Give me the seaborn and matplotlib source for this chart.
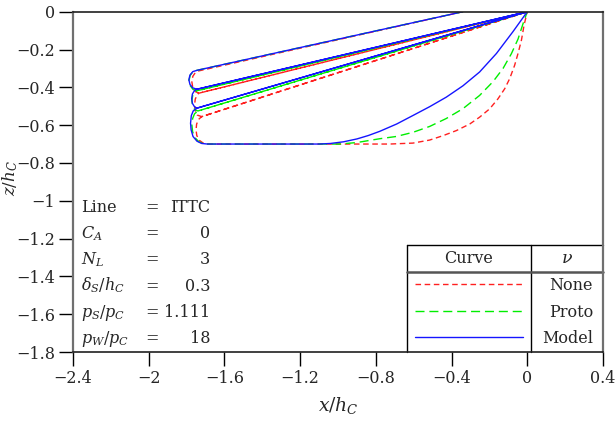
import matplotlib
matplotlib.use("Agg")
import matplotlib.pyplot as plt
import numpy as np
import pandas as pd
import seaborn as sns

# Cable profile paths (x/h_C, z/h_C) for each viscosity treatment
none_x = [-0.34, -1.735, -1.753, -1.767, -1.772, -1.767, -1.753, -1.735, 0.0,
          -1.735, -1.743, -1.754, -1.758, -1.754, -1.743, -1.72, 0.0,
          -1.72, -1.737, -1.747, -1.750, -1.746, -1.733, -1.712, -1.68, -1.66,
          -0.727, -0.604, -0.516, -0.446, -0.375, -0.304, -0.252, -0.199, -0.155,
          -0.119, -0.093, -0.067, -0.049, -0.031, -0.017, 0.0]
none_y = [0.0, -0.313, -0.321, -0.342, -0.372, -0.402, -0.423, -0.431, 0.0,
          -0.431, -0.439, -0.462, -0.493, -0.524, -0.547, -0.555, 0.0,
          -0.555, -0.570, -0.595, -0.625, -0.655, -0.680, -0.695, -0.700, -0.700,
          -0.700, -0.695, -0.679, -0.656, -0.629, -0.594, -0.558, -0.514, -0.461,
          -0.407, -0.354, -0.284, -0.221, -0.151, -0.071, 0.0]

proto_x = [-0.34, -1.745, -1.766, -1.781, -1.787, -1.781, -1.766, -1.745, 0.0,
           -1.745, -1.757, -1.768, -1.772, -1.768, -1.757, -1.74, 0.0,
           -1.74, -1.758, -1.768, -1.772, -1.768, -1.757, -1.735, -1.71, -1.69,
           -0.99, -0.90, -0.78, -0.692, -0.604, -0.516, -0.428, -0.34, -0.252,
           -0.181, -0.128, -0.084, -0.049, -0.023, 0.0]
proto_y = [0.0, -0.310, -0.317, -0.337, -0.364, -0.391, -0.411, -0.418, 0.0,
           -0.418, -0.425, -0.445, -0.472, -0.498, -0.518, -0.525, 0.0,
           -0.525, -0.540, -0.565, -0.600, -0.635, -0.665, -0.688, -0.698, -0.700,
           -0.700, -0.692, -0.672, -0.660, -0.638, -0.607, -0.565, -0.513, -0.443,
           -0.370, -0.300, -0.222, -0.145, -0.065, 0.0]

model_x = [-0.34, -1.745, -1.767, -1.782, -1.788, -1.782, -1.767, -1.745, 0.0,
           -1.745, -1.758, -1.769, -1.773, -1.769, -1.758, -1.745, 0.0,
           -1.745, -1.765, -1.775, -1.779, -1.776, -1.766, -1.745, -1.72, -1.69,
           -1.10, -1.04, -0.97, -0.90, -0.84, -0.78, -0.69, -0.604, -0.515,
           -0.428, -0.34, -0.252, -0.163, -0.076, 0.0]
model_y = [0.0, -0.310, -0.317, -0.335, -0.360, -0.385, -0.403, -0.410, 0.0,
           -0.410, -0.417, -0.435, -0.460, -0.485, -0.503, -0.510, 0.0,
           -0.510, -0.525, -0.550, -0.590, -0.625, -0.660, -0.685, -0.697, -0.700,
           -0.700, -0.697, -0.688, -0.673, -0.655, -0.633, -0.594, -0.549, -0.502,
           -0.452, -0.392, -0.319, -0.221, -0.106, 0.0]

curve_names = ["None", "Proto", "Model"]
curve_colors = ["#ff2020", "#00ee00", "#1515ff"]
curve_dashes = [(4.0, 2.6), (6.5, 3.5), ""]

param_names = ["Line", "$C_A$", "$N_L$", r"$\delta_S/h_C$", "$p_S/p_C$", "$p_W/p_C$"]
param_values = ["ITTC", "0", "3", "0.3", "1.111", "18"]

x_ticks = [-2.4, -2.0, -1.6, -1.2, -0.8, -0.4, 0.0, 0.4]
x_tick_labels = ["\u22122.4", "\u22122", "\u22121.6", "\u22121.2", "\u22120.8", "\u22120.4", "0", "0.4"]
y_ticks = [0.0, -0.2, -0.4, -0.6, -0.8, -1.0, -1.2, -1.4, -1.6, -1.8]
y_tick_labels = ["0", "\u22120.2", "\u22120.4", "\u22120.6", "\u22120.8", "\u22121",
                 "\u22121.2", "\u22121.4", "\u22121.6", "\u22121.8"]

frames = []
for name, xs, ys in zip(curve_names, [none_x, proto_x, model_x], [none_y, proto_y, model_y]):
    frames.append(pd.DataFrame({"x": xs, "y": ys, "curve": name}))
df = pd.concat(frames, ignore_index=True)

sns.set_style("white")
plt.rcParams["font.family"] = ["DejaVu Serif"]
plt.rcParams["mathtext.fontset"] = "dejavuserif"

fig = plt.figure(figsize=(6.15, 4.23), dpi=100)
ax = fig.add_axes([73 / 615, 71 / 423, 530 / 615, 340.3 / 423])

sns.lineplot(data=df, x="x", y="y", hue="curve", style="curve",
             hue_order=curve_names, style_order=curve_names,
             palette=dict(zip(curve_names, curve_colors)),
             dashes=dict(zip(curve_names, curve_dashes)),
             sort=False, estimator=None, linewidth=1.0, legend=False, ax=ax)

ax.set_xlim(-2.4, 0.4)
ax.set_ylim(-1.8, 0.0)
ax.set_xticks(x_ticks)
ax.set_xticklabels(x_tick_labels)
ax.set_yticks(y_ticks)
ax.set_yticklabels(y_tick_labels)
ax.tick_params(axis="both", direction="out", length=10, width=1.0, labelsize=11.5,
               color="black", bottom=True, left=True, top=False, right=False, pad=3)

for side in ["left", "right"]:
    ax.spines[side].set_color("#707070")
    ax.spines[side].set_linewidth(1.6)
for side in ["top", "bottom"]:
    ax.spines[side].set_color("#202020")
    ax.spines[side].set_linewidth(1.2)

ax.set_xlabel("$x/h_C$", fontsize=13.5)
ax.set_ylabel("$z/h_C$", fontsize=12)
ax.xaxis.set_label_coords(0.5, -0.125)
ax.yaxis.set_label_coords(-0.1, 0.51)

# Parameter block
row_base = [0.412, 0.335, 0.258, 0.180, 0.103, 0.026]
for name, val, yb in zip(param_names, param_values, row_base):
    ax.text(0.016, yb, name, transform=ax.transAxes, fontsize=11.5, va="baseline", ha="left")
    ax.text(0.149, yb, "=", transform=ax.transAxes, fontsize=11.5, va="baseline", ha="center")
    ax.text(0.2585, yb, val, transform=ax.transAxes, fontsize=11.5, va="baseline", ha="right")

# Legend table
tbl_left, tbl_mid, tbl_right = 0.630, 0.8636, 1.0
tbl_top, tbl_head = 0.3147, 0.236
kw = dict(transform=ax.transAxes, clip_on=False)
ax.plot([tbl_left, tbl_right], [tbl_top, tbl_top], color="black", lw=1.0, **kw)
ax.plot([tbl_left, tbl_left], [0.0, tbl_top], color="black", lw=1.0, **kw)
ax.plot([tbl_mid, tbl_mid], [0.0, tbl_top], color="black", lw=1.0, **kw)
ax.plot([tbl_left, tbl_right], [tbl_head, tbl_head], color="#555555", lw=1.8, **kw)
ax.text((tbl_left + tbl_mid) / 2, 0.262, "Curve", transform=ax.transAxes,
        fontsize=11.5, ha="center", va="baseline")
ax.text(0.9315, 0.262, r"$\nu$", transform=ax.transAxes,
        fontsize=12.5, ha="center", va="baseline")
sample_y = [0.199, 0.1215, 0.043]
label_base = [0.182, 0.104, 0.026]
for name, color, dash, sy, lb in zip(curve_names, curve_colors, curve_dashes, sample_y, label_base):
    line, = ax.plot([0.645, 0.8485], [sy, sy], color=color, lw=1.0, **kw)
    if dash:
        line.set_dashes(dash)
    ax.text(0.981, lb, name, transform=ax.transAxes, fontsize=11.5, ha="right", va="baseline")

fig.savefig("out.png", dpi=100)
